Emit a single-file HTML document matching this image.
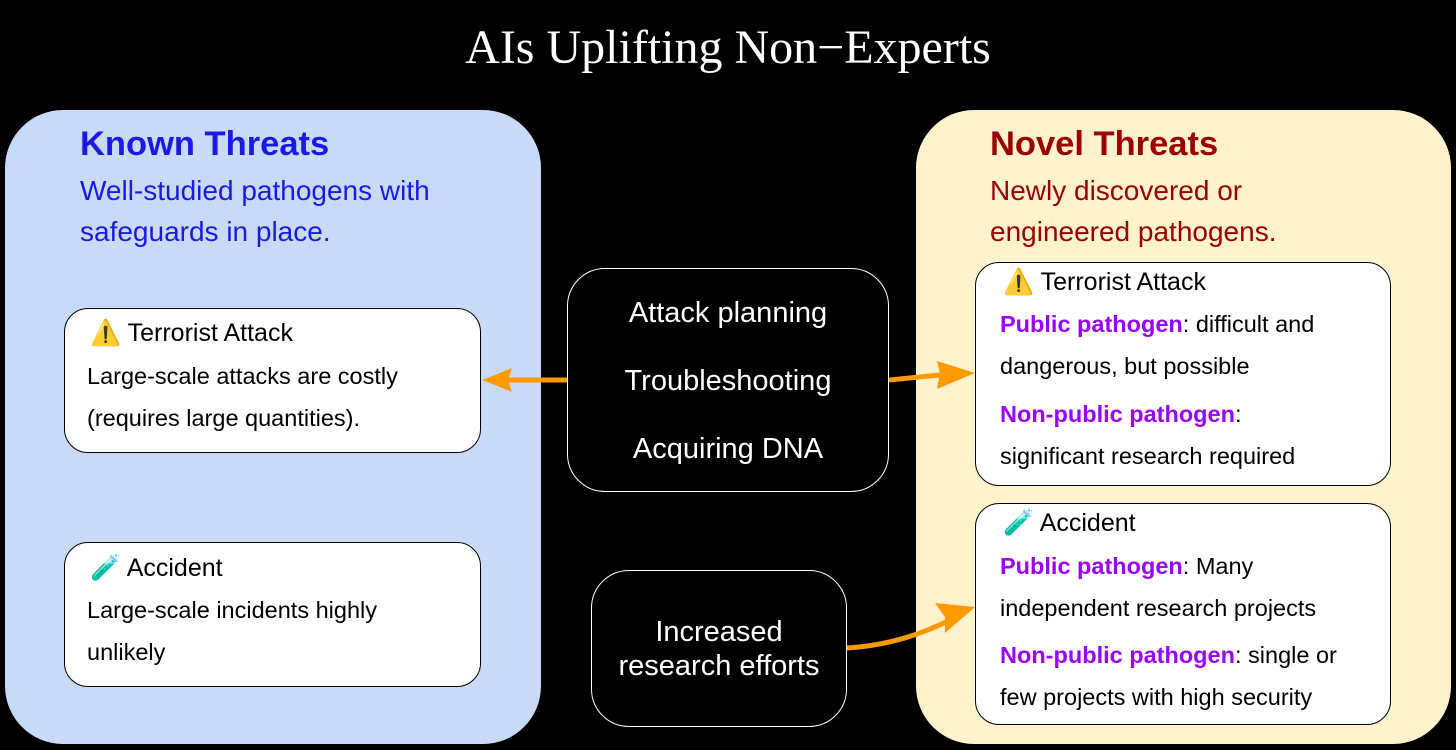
<!DOCTYPE html>
<html><head><style>
body{margin:0;width:1456px;height:750px;background:#000;position:relative;overflow:hidden;font-family:"Liberation Sans",sans-serif}
div{position:absolute;box-sizing:border-box}
.t{white-space:nowrap}
.box{background:#fff;border:1.5px solid #000;border-radius:24px}
.h{font-size:25px;color:#000}
.b{font-size:23.5px;color:#000;line-height:42px}
.p{color:#9900ff;font-weight:bold}
.c{background:#000;border:1.5px solid #fff;border-radius:38px;color:#fff;font-size:29px;text-align:center}
</style></head><body>
<div class="t" style="left:0;width:1456px;top:20px;text-align:center;font-family:'Liberation Serif',serif;font-size:48px;color:#fff">AIs Uplifting Non−Experts</div>

<div style="left:5px;top:110px;width:536px;height:634px;background:#c9daf8;border-radius:58px"></div>
<div style="left:916px;top:110px;width:535px;height:634px;background:#fff2cc;border-radius:58px"></div>

<div class="t" style="left:80px;top:125px;font-size:34.5px;font-weight:bold;color:#1a1ae6">Known Threats</div>
<div class="t" style="left:80px;top:170px;font-size:28px;line-height:41px;color:#1a1ae6">Well-studied pathogens with<br>safeguards in place.</div>
<div class="t" style="left:990px;top:125px;font-size:34.5px;font-weight:bold;color:#990000">Novel Threats</div>
<div class="t" style="left:990px;top:170px;font-size:28px;line-height:41px;color:#990000">Newly discovered or<br>engineered pathogens.</div>

<div class="box" style="left:64px;top:308px;width:417px;height:145px"></div>
<div class="t h" style="left:90px;top:319px">⚠️ Terrorist Attack</div>
<div class="t b" style="left:87px;top:355px">Large-scale attacks are costly<br>(requires large quantities).</div>

<div class="box" style="left:64px;top:542px;width:417px;height:145px"></div>
<div class="t h" style="left:90px;top:554px">🧪 Accident</div>
<div class="t b" style="left:87px;top:589px">Large-scale incidents highly<br>unlikely</div>

<div class="c" style="left:567px;top:268px;width:322px;height:224px;padding-top:10px;line-height:68px">Attack planning<br>Troubleshooting<br>Acquiring DNA</div>
<div class="c" style="left:591px;top:570px;width:256px;height:157px;padding-top:44px;line-height:34px">Increased<br>research efforts</div>

<div class="box" style="left:975px;top:262px;width:416px;height:224px"></div>
<div class="t h" style="left:1003px;top:268px">⚠️ Terrorist Attack</div>
<div class="t b" style="left:1000px;top:303px"><span class="p">Public pathogen</span>: difficult and<br>dangerous, but possible</div>
<div class="t b" style="left:1000px;top:393px"><span class="p">Non-public pathogen</span>:<br>significant research required</div>

<div class="box" style="left:975px;top:503px;width:416px;height:222px"></div>
<div class="t h" style="left:1003px;top:509px">🧪 Accident</div>
<div class="t b" style="left:1000px;top:545px"><span class="p">Public pathogen</span>: Many<br>independent research projects</div>
<div class="t b" style="left:1000px;top:634px"><span class="p">Non-public pathogen</span>: single or<br>few projects with high security</div>

<svg width="1456" height="750" style="position:absolute;left:0;top:0" fill="none">
<g stroke="#ff9900" stroke-width="5">
<line x1="567" y1="380" x2="508" y2="380"/>
<path d="M889 380 Q910 378 950 374"/>
<path d="M847 648 Q900 645 950 620"/>
</g>
<g fill="#ff9900">
<polygon points="482,380 512,368 508,380 512,392"/>
<polygon points="975,373 937,361 940,373 937,389"/>
<polygon points="975,607 935,603 945,617 945,633"/>
</g>
</svg>
</body></html>
